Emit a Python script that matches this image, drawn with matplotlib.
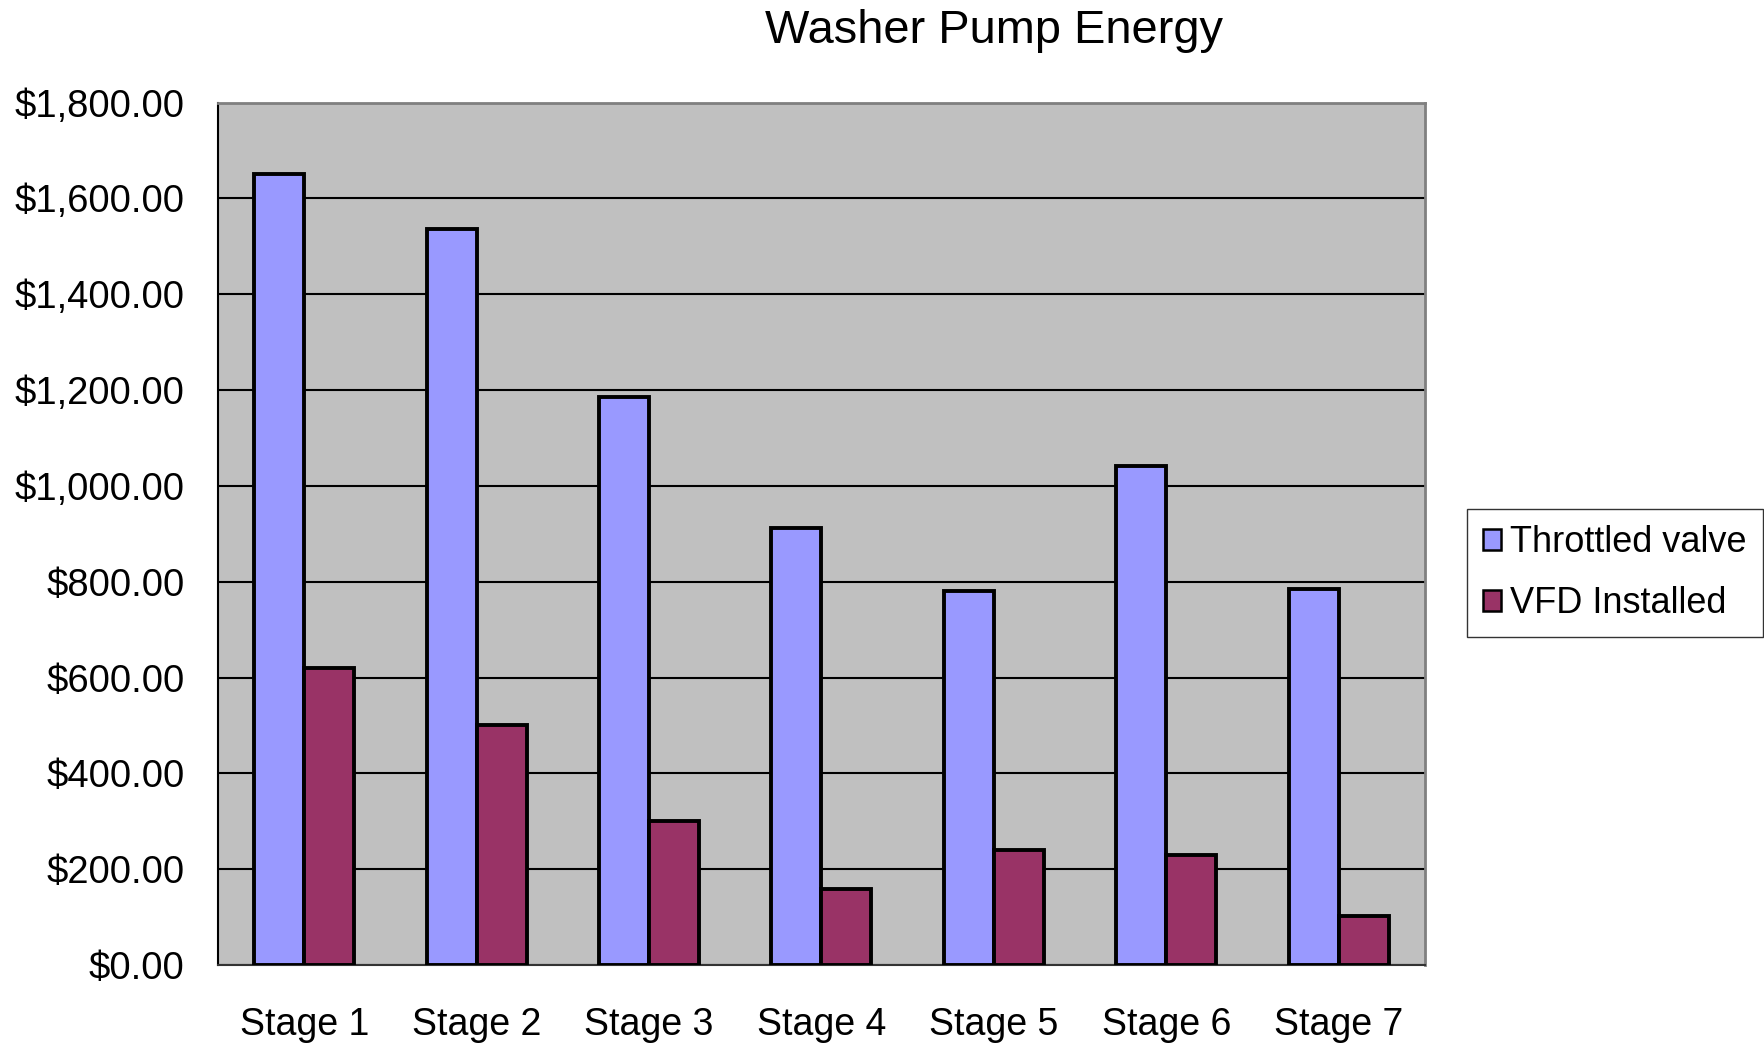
import matplotlib
matplotlib.use("Agg")
import matplotlib.pyplot as plt
import numpy as np
from matplotlib.ticker import FuncFormatter

plt.rcParams['font.family'] = ['Liberation Sans', 'DejaVu Sans']

stages = ["Stage 1", "Stage 2", "Stage 3", "Stage 4", "Stage 5", "Stage 6", "Stage 7"]
throttled_valve = [1650, 1535, 1186, 913, 780, 1042, 785]
vfd_installed = [620, 500, 300, 158, 240, 230, 102]
y_ticks = [0, 200, 400, 600, 800, 1000, 1200, 1400, 1600, 1800]

fig = plt.figure(figsize=(17.64, 10.46), dpi=100)
ax = fig.add_axes([0.1236, 0.0774, 0.6842, 0.8246])
ax.set_facecolor("#C0C0C0")

x = np.arange(len(stages))
w = 0.29
ax.bar(x - w / 2, throttled_valve, width=w, color="#9999FF",
       edgecolor="black", linewidth=2.8, label="Throttled valve", zorder=3)
ax.bar(x + w / 2, vfd_installed, width=w, color="#993366",
       edgecolor="black", linewidth=2.8, label="VFD Installed", zorder=3)

ax.set_xlim(-0.5, len(stages) - 0.5)
ax.set_ylim(0, 1800)
ax.set_yticks(y_ticks)
ax.yaxis.set_major_formatter(FuncFormatter(lambda v, p: f"${v:,.2f}"))
ax.set_xticks(x)
ax.set_xticklabels(stages)
ax.grid(axis="y", color="black", linewidth=1.5, zorder=1)
ax.tick_params(axis="y", length=0, pad=24, labelsize=27.5)
ax.tick_params(axis="x", length=0, pad=30, labelsize=27)

ax.spines["left"].set_color("black")
ax.spines["left"].set_linewidth(1.5)
ax.spines["bottom"].set_color("#333333")
ax.spines["bottom"].set_linewidth(1.5)
ax.spines["right"].set_color("#808080")
ax.spines["right"].set_linewidth(2)
ax.spines["top"].set_color("#808080")
ax.spines["top"].set_linewidth(2)

fig.text(0.5635, 0.970, "Washer Pump Energy", ha="center", va="center", fontsize=33.8)

leg = ax.legend(loc="center left", bbox_to_anchor=(0.8315, 0.452),
                bbox_transform=fig.transFigure, fontsize=26, frameon=True,
                fancybox=False, edgecolor="black", handlelength=0.5,
                handleheight=0.5, handletextpad=0.25, borderpad=0.45,
                labelspacing=0.72, borderaxespad=0)
leg.get_frame().set_linewidth(1.0)
for h in leg.legend_handles:
    h.set_linewidth(1.8)

fig.savefig("out.png", dpi=100, facecolor="white")
